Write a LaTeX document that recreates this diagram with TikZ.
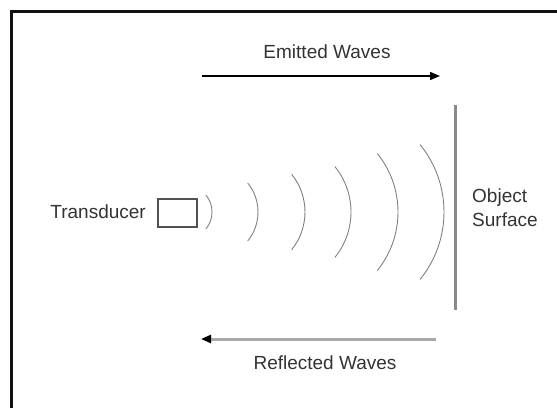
\documentclass[tikz,border=0pt]{standalone}
\usepackage{fontspec}
\setmainfont{Liberation Sans}
\usetikzlibrary{arrows.meta}
\definecolor{frameink}{HTML}{111111}
\definecolor{labelink}{HTML}{333333}
\definecolor{surfgray}{HTML}{8A8A8A}
\definecolor{reflgray}{HTML}{A8A8A8}
\definecolor{wavegray}{HTML}{808080}
\tikzset{
  lbl/.style={font=\fontsize{19}{24}\selectfont, text=labelink, inner sep=0pt},
  wave/.style={draw=wavegray, line width=0.9pt},
  tipend/.style={-{Triangle[length=10pt,width=8pt,color=black]}},
}

\begin{document}
\begin{tikzpicture}[x=1pt,y=-1pt]
    \useasboundingbox (0,0) rectangle (557,408);
    \draw[frameink, line width=2.7pt] (11.3,408) -- (11.3,11.3) -- (557,11.3);

    \node[lbl] (emitlbl) at (327,52) {Emitted Waves};
    \coordinate (emitTail) at (202,76);
    \coordinate (emitHead) at (440,76);
    \draw[black, line width=1.4pt, tipend] (emitTail) -- (emitHead);

    \node[lbl, anchor=east] (xdcrlbl) at (146,212) {Transducer};
    \node[draw=labelink!85, line width=1.4pt, minimum width=39pt,
      minimum height=28pt, inner sep=0pt] (xdcr) at (177.5,213) {};

    \foreach \px/\r in {212/27, 258/46, 305/60, 351/72, 398/93, 444/107}
      \draw[wave] (\px-\r,212) ++(-39:\r) arc[start angle=-39, end angle=39, radius=\r];

    \coordinate (surfTop) at (455,105);
    \coordinate (surfBot) at (455,310);
    \draw[surfgray, line width=3pt] (surfTop) -- (surfBot);
    \node[lbl, anchor=west, align=left] (surflbl) at (472,208) {Object\\Surface};

    \coordinate (reflTail) at (436,339);
    \coordinate (reflHead) at (201,339);
    \draw[reflgray, line width=3pt, tipend] (reflTail) -- (reflHead);
    \node[lbl] (refllbl) at (325,363) {Reflected Waves};
\end{tikzpicture}
\end{document}
